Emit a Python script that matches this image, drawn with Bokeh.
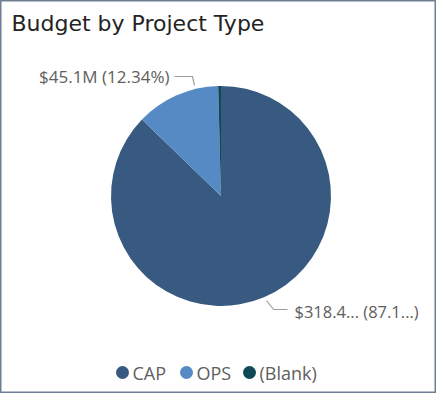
import math
from bokeh.plotting import figure
from bokeh.models import Range1d
from bokeh.core.properties import value
from bokeh.embed import file_html
from bokeh.resources import INLINE

# ---- data ----
categories = ["CAP", "OPS", "(Blank)"]
budget_m = [318.4, 45.1, 1.5]
colors = ["#385A80", "#558AC5", "#0D4956"]
slice_labels = ["$318.4... (87.1...)", "$45.1M (12.34%)"]
title_text = "Budget by Project Type"

W, H = 436, 393
p = figure(width=W, height=H, output_backend="svg", toolbar_location=None,
           x_range=Range1d(0, W), y_range=Range1d(-H, 0),
           min_border=0, outline_line_color="#6F7E94", outline_line_width=2)
p.axis.visible = False
p.grid.visible = False
p.background_fill_color = "white"
p.border_fill_color = "white"

def Y(py):
    return -py

# pie
cx, cy, r = 220.5, 195.5, 110
total = sum(budget_m)
cum = 0.0
starts, ends = [], []
for v in budget_m:
    starts.append(math.pi / 2 - 2 * math.pi * cum / total)
    cum += v
    ends.append(math.pi / 2 - 2 * math.pi * cum / total)
p.wedge(x=[cx] * 3, y=[Y(cy)] * 3, radius=r, start_angle=starts, end_angle=ends,
        direction="clock", fill_color=colors, line_color=None)

# title
p.text(x=[11], y=[Y(23)], text=[title_text], text_font=value("DejaVu Sans"),
       text_font_size="22px", text_color="#252423", text_baseline="middle")

# leader lines
p.line(x=[174, 192, 194], y=[Y(76), Y(76), Y(85)], line_color="#A19F9D", line_width=1.2)
p.line(x=[266, 273, 287], y=[Y(300), Y(309), Y(309)], line_color="#A19F9D", line_width=1.2)

# data labels
p.text(x=[169], y=[Y(76)], text=[slice_labels[1]], text_font=value("Open Sans"),
       text_font_size="17px", text_color="#605E5C", text_baseline="middle", text_align="right")
p.text(x=[294], y=[Y(311)], text=[slice_labels[0]], text_font=value("Open Sans"),
       text_font_size="16.5px", text_color="#605E5C", text_baseline="middle", text_align="left")

# legend
lx = [122, 186, 249]
p.scatter(x=lx, y=[Y(372)] * 3, size=13, marker="circle", fill_color=colors, line_color=None)
p.text(x=[v + 10 for v in lx], y=[Y(372)] * 3, text=categories, text_font=value("Open Sans"),
       text_font_size="18px", text_color="#605E5C", text_baseline="middle")

open("out.html", "w").write(file_html(p, INLINE))
